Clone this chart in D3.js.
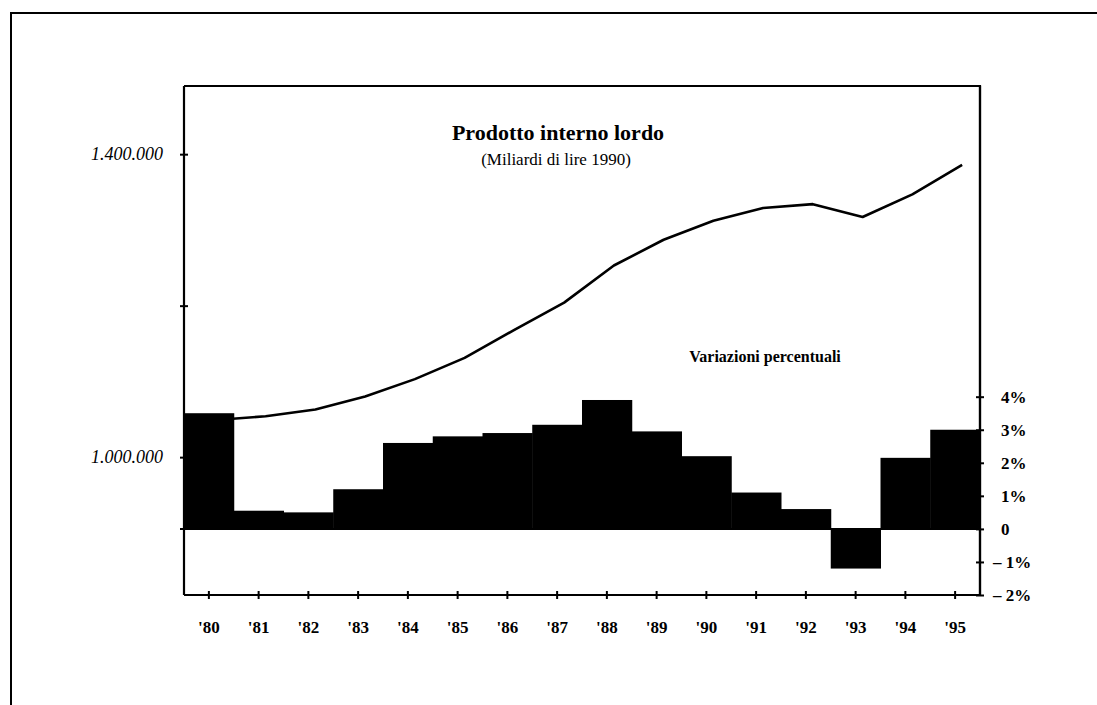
<!DOCTYPE html>
<html>
<head>
<meta charset="utf-8">
<script src="https://cdn.jsdelivr.net/npm/d3@7"></script>
<style>
  body { margin: 0; background: #fff; }
  svg { display: block; font-family: "Liberation Serif", "DejaVu Serif", serif; }
  .axis path { stroke: #000; stroke-width: 2.2; }
  .axis line { stroke: #000; stroke-width: 2; }
  .axis text { fill: #000; font-family: "Liberation Serif", "DejaVu Serif", serif; }
</style>
</head>
<body>
<script>
// years shown on the x axis
var years = ["'80", "'81", "'82", "'83", "'84", "'85", "'86", "'87",
             "'88", "'89", "'90", "'91", "'92", "'93", "'94", "'95"];

// GDP, billions of 1990 lire (line, left axis)
var pil = [1049000, 1054000, 1063000, 1080000, 1103000, 1131000, 1168000, 1204000,
           1253000, 1287000, 1312000, 1329000, 1334000, 1317000, 1347000, 1386000];

// yearly change in % (bars, right axis)
var variazioni = [3.5, 0.55, 0.5, 1.2, 2.6, 2.8, 2.9, 3.15,
                  3.9, 2.95, 2.2, 1.1, 0.6, -1.2, 2.15, 3.0];

var leftTicks = [1000000, 1200000, 1400000];
var rightTicks = [-2, -1, 0, 1, 2, 3, 4];

var W = 1097, H = 705;
var plot = { left: 184, right: 980, top: 86, bottom: 595 };

var svg = d3.select("body").append("svg")
   .attr("width", W)
   .attr("height", H);

// outer frame (only top and left edges are visible in the scan)
svg.append("path")
   .attr("d", "M11,705 L11,13 L1097,13")
   .attr("fill", "none")
   .attr("stroke", "#000")
   .attr("stroke-width", 2);

var x = d3.scaleBand().domain(years).range([plot.left, plot.right]).padding(0);
var yL = d3.scaleLinear().domain([818000, 1490000]).range([plot.bottom, plot.top]);
var yR = d3.scaleLinear().domain([-2, 13.4]).range([plot.bottom, plot.top]);

var it = d3.formatLocale({ decimal: ",", thousands: ".", grouping: [3], currency: ["", ""] });
var fmtL = it.format(",d");

// plot box top + right
svg.append("path")
   .attr("d", "M" + plot.left + "," + plot.top + " L" + plot.right + "," + plot.top +
              " L" + plot.right + "," + plot.bottom)
   .attr("fill", "none")
   .attr("stroke", "#000")
   .attr("stroke-width", 2.2);

// GDP line, drawn first so the '80 bar covers its start
var line = d3.line()
   .x(function(d, i) { return x(years[i]) + x.bandwidth() / 2 + 7; })
   .y(function(d) { return yL(d); });

svg.append("path")
   .datum(pil)
   .attr("d", line)
   .attr("fill", "none")
   .attr("stroke", "#000")
   .attr("stroke-width", 2.6)
   .attr("stroke-linejoin", "round");

// bars
svg.selectAll("rect.bar")
   .data(variazioni)
   .enter().append("rect")
   .attr("class", "bar")
   .attr("x", function(d, i) { return x(years[i]); })
   .attr("width", x.bandwidth() + 0.5)
   .attr("y", function(d) { return Math.min(yR(d), yR(0)); })
   .attr("height", function(d) { return Math.abs(yR(d) - yR(0)); })
   .attr("fill", "#000");

// zero line
svg.append("line")
   .attr("x1", plot.left - 4).attr("x2", plot.right)
   .attr("y1", yR(0)).attr("y2", yR(0))
   .attr("stroke", "#000").attr("stroke-width", 2);

// left axis
var gL = svg.append("g")
   .attr("class", "axis")
   .attr("transform", "translate(" + plot.left + ",0)")
   .call(d3.axisLeft(yL).tickValues(leftTicks).tickSizeOuter(0).tickSizeInner(4).tickPadding(17)
      .tickFormat(function(d) { return d === 1200000 ? "" : fmtL(d); }));
gL.attr("font-family", null);
gL.select(".domain").attr("d", "M0," + plot.top + "V" + plot.bottom);
gL.selectAll(".tick line").attr("x1", -4).attr("x2", 4);
gL.selectAll("text").style("font-size", "18px").style("font-style", "italic");

// right axis
var gR = svg.append("g")
   .attr("class", "axis")
   .attr("transform", "translate(" + plot.right + ",0)")
   .call(d3.axisRight(yR).tickValues(rightTicks).tickSizeOuter(0).tickSizeInner(4).tickPadding(17)
      .tickFormat(function(d) {
         if (d === 0) return "0";
         return (d < 0 ? "\u2013 " + (-d) : d) + "%";
      }));
gR.attr("font-family", null);
gR.select(".domain").attr("d", "M0," + plot.top + "V" + plot.bottom);
gR.selectAll(".tick line").attr("x1", -4).attr("x2", 4);
gR.selectAll("text")
   .style("font-size", "17px")
   .style("font-weight", "bold")
   .attr("dx", function(d) { return d < 0 ? -8 : 0; });

// bottom axis
var gB = svg.append("g")
   .attr("class", "axis")
   .attr("transform", "translate(0," + plot.bottom + ")")
   .call(d3.axisBottom(x).tickSizeOuter(0).tickSizeInner(4).tickPadding(22));
gB.attr("font-family", null);
gB.select(".domain").attr("d", "M" + plot.left + ",0H" + plot.right);
gB.selectAll(".tick line").attr("y1", -4).attr("y2", 4);
gB.selectAll("text").style("font-size", "17px").style("font-weight", "bold");

// titles
svg.append("text")
   .attr("x", 558).attr("y", 140)
   .attr("text-anchor", "middle")
   .style("font-size", "22px").style("font-weight", "bold")
   .text("Prodotto interno lordo");

svg.append("text")
   .attr("x", 556).attr("y", 165)
   .attr("text-anchor", "middle")
   .style("font-size", "17px")
   .text("(Miliardi di lire 1990)");

svg.append("text")
   .attr("x", 765).attr("y", 362)
   .attr("text-anchor", "middle")
   .style("font-size", "16px").style("font-weight", "bold")
   .text("Variazioni percentuali");
</script>
</body>
</html>
